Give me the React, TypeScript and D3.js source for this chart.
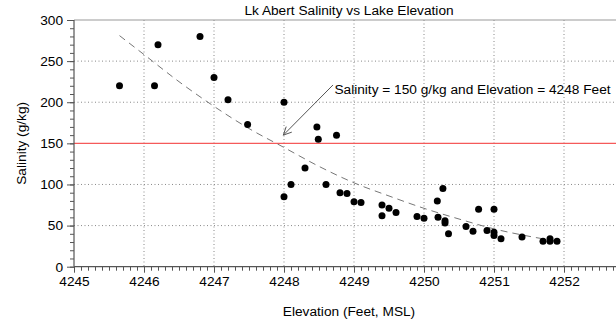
import { useEffect, useRef } from "react";
import * as d3 from "d3";

const elevation = [
  4245.65, 4246.15, 4246.2, 4246.8, 4247.0, 4247.2, 4247.48, 4248.0, 4248.0, 4248.1,
  4248.3, 4248.47, 4248.49, 4248.6, 4248.75, 4248.8, 4248.9, 4249.0, 4249.1, 4249.4,
  4249.4, 4249.5, 4249.6, 4249.9, 4250.0, 4250.19, 4250.2, 4250.27, 4250.3, 4250.3,
  4250.35, 4250.6, 4250.7, 4250.78, 4250.9, 4251.0, 4251.0, 4251.0, 4251.1, 4251.4,
  4251.7, 4251.8, 4251.8, 4251.9,
];
const salinity = [
  220, 220, 270, 280, 230, 203, 173, 200, 85, 100,
  120, 170, 155, 100, 160, 90, 89, 79, 78, 75,
  62, 71, 66, 61, 59, 80, 60, 95, 56, 53,
  40, 49, 43, 70, 44, 70, 42, 38, 34, 36,
  31, 34, 31, 31,
];

// dashed trend line
const trendElev = [4245.65, 4246, 4246.5, 4247, 4247.5, 4248, 4248.5, 4249, 4249.5, 4250, 4250.5, 4251, 4251.5, 4251.9];
const trendSal = [281, 258, 225, 195, 168, 145, 122, 102, 86, 71, 58, 46, 37, 31];

const xTicks = [4245, 4246, 4247, 4248, 4249, 4250, 4251, 4252];
const yTicks = [0, 50, 100, 150, 200, 250, 300];
const threshold = 150;
const note = "Salinity = 150 g/kg and Elevation = 4248 Feet";

export default function App() {
  const ref = useRef<SVGSVGElement>(null);

  useEffect(() => {
    if (!ref.current) return;
    const W = 616, H = 321;
    const ML = 74, MT = 20, PR = 624, PB = 266.7;
    const font = "Helvetica, Arial, 'Liberation Sans', sans-serif";
    const FS = 13.7;

    const svg = d3.select(ref.current).attr("width", W).attr("height", H);
    svg.selectAll("*").remove();
    svg.attr("font-family", font);

    const x = d3.scaleLinear().domain([4245, 4252.857]).range([ML, PR]);
    const y = d3.scaleLinear().domain([0, 300]).range([PB, MT]);

    // grid
    const grid = svg.append("g").attr("stroke", "#888").attr("stroke-dasharray", "1,2.5");
    xTicks.slice(1).forEach(t => {
      grid.append("line").attr("x1", x(t)).attr("x2", x(t)).attr("y1", MT).attr("y2", PB);
    });
    yTicks.slice(1, -1).filter(t => t !== threshold).forEach(t => {
      grid.append("line").attr("x1", ML).attr("x2", PR).attr("y1", y(t)).attr("y2", y(t));
    });

    // frame top
    svg.append("line").attr("x1", ML).attr("x2", PR).attr("y1", MT).attr("y2", MT)
      .attr("stroke", "#999").attr("stroke-width", 1.2);

    // threshold
    svg.append("line").attr("x1", ML).attr("x2", PR)
      .attr("y1", y(threshold)).attr("y2", y(threshold))
      .attr("stroke", "#f55a5a").attr("stroke-width", 1.3);

    // trend
    const line = d3.line<number>()
      .x((_, i) => x(trendElev[i])).y(d => y(d))
      .curve(d3.curveMonotoneX);
    svg.append("path").attr("d", line(trendSal))
      .attr("fill", "none").attr("stroke", "#777").attr("stroke-width", 1)
      .attr("stroke-dasharray", "7,5");

    // points
    svg.append("g").selectAll("circle").data(salinity).join("circle")
      .attr("cx", (_, i) => x(elevation[i])).attr("cy", d => y(d))
      .attr("r", 3.5).attr("fill", "#000");

    // arrow
    const ax0 = x(4248.7), ay0 = y(221), ax1 = x(4247.99), ay1 = y(160);
    svg.append("line").attr("x1", ax0).attr("y1", ay0).attr("x2", ax1).attr("y2", ay1)
      .attr("stroke", "#555").attr("stroke-width", 1);
    const ang = Math.atan2(ay0 - ay1, ax0 - ax1);
    [0.45, -0.45].forEach(da => {
      svg.append("line").attr("x1", ax1).attr("y1", ay1)
        .attr("x2", ax1 + 9 * Math.cos(ang + da)).attr("y2", ay1 + 9 * Math.sin(ang + da))
        .attr("stroke", "#555").attr("stroke-width", 1);
    });
    svg.append("text").attr("x", x(4248.72)).attr("y", y(216) + 5)
      .attr("font-size", FS).attr("fill", "#000").text(note);

    // x axis
    const xa = svg.append("g").attr("transform", `translate(0,${PB})`);
    xa.call(d3.axisBottom(x).tickValues(d3.range(42450, 42529).map(v => v / 10)).tickSize(4).tickFormat(() => ""))
      .call(g => g.select(".domain").remove());
    xa.append("g").call(d3.axisBottom(x).tickValues(xTicks).tickSize(6).tickPadding(4).tickFormat(d3.format("d")))
      .call(g => g.select(".domain").remove())
      .call(g => g.selectAll("text").attr("font-size", FS).attr("fill", "#000").attr("font-family", font));
    xa.selectAll("line").attr("stroke", "#555");
    svg.append("line").attr("x1", ML).attr("x2", PR).attr("y1", PB).attr("y2", PB)
      .attr("stroke", "#555").attr("stroke-width", 1.2);

    // y axis
    const ya = svg.append("g").attr("transform", `translate(${ML},0)`);
    ya.call(d3.axisLeft(y).tickValues(d3.range(0, 301, 10)).tickSize(4).tickFormat(() => ""))
      .call(g => g.select(".domain").remove());
    ya.append("g").call(d3.axisLeft(y).tickValues(yTicks).tickSize(7).tickPadding(4))
      .call(g => g.select(".domain").remove())
      .call(g => g.selectAll("text").attr("font-size", FS).attr("fill", "#000").attr("font-family", font));
    ya.selectAll("line").attr("stroke", "#555");
    svg.append("line").attr("x1", ML).attr("x2", ML).attr("y1", MT).attr("y2", PB)
      .attr("stroke", "#555").attr("stroke-width", 1.2);

    // titles
    svg.append("text").attr("x", 349).attr("y", 15).attr("text-anchor", "middle")
      .attr("font-size", FS).attr("fill", "#000").text("Lk Abert Salinity vs Lake Elevation");
    svg.append("text").attr("x", 349).attr("y", 316).attr("text-anchor", "middle")
      .attr("font-size", FS).attr("fill", "#000").text("Elevation (Feet, MSL)");
    svg.append("text").attr("transform", `translate(26,${(MT + PB) / 2}) rotate(-90)`)
      .attr("text-anchor", "middle").attr("font-size", FS).attr("fill", "#000")
      .text("Salinity (g/kg)");
  }, []);

  return (
    <div style={{ position: "absolute", left: 0, top: 0, background: "#fff" }}>
      <svg ref={ref} style={{ display: "block" }} />
    </div>
  );
}
